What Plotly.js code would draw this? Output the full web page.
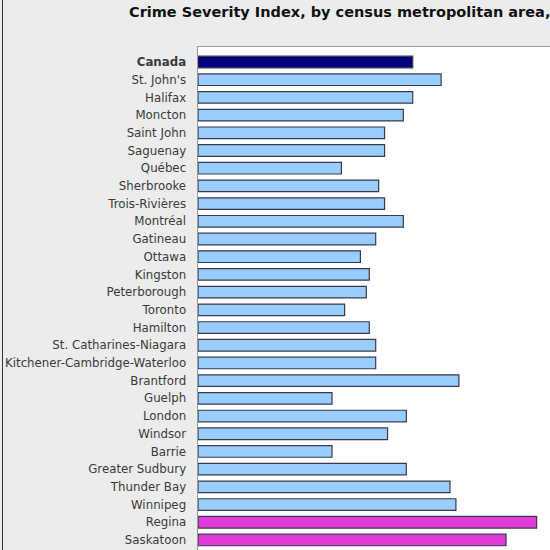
<!DOCTYPE html>
<html>
<head>
<meta charset="utf-8">
<script src="https://cdn.plot.ly/plotly-3.0.1.min.js"></script>
<style>
  html, body { margin: 0; padding: 0; overflow: hidden; background: #ececec; }
  #chart { position: absolute; left: 0; top: 0; width: 700px; height: 700px; }
  #edge { position: absolute; left: 2px; top: 0; width: 1px; height: 100%; background: #333; }
</style>
</head>
<body>
<div id="chart"></div>
<div id="edge"></div>
<script>
const categories = ["Canada","St. John's","Halifax","Moncton","Saint John","Saguenay","Québec","Sherbrooke","Trois-Rivières","Montréal","Gatineau","Ottawa","Kingston","Peterborough","Toronto","Hamilton","St. Catharines-Niagara","Kitchener-Cambridge-Waterloo","Brantford","Guelph","London","Windsor","Barrie","Greater Sudbury","Thunder Bay","Winnipeg","Regina","Saskatoon"];
const tickLabels = ["<b>Canada</b>","St. John's","Halifax","Moncton","Saint John","Saguenay","Québec","Sherbrooke","Trois-Rivières","Montréal","Gatineau","Ottawa","Kingston","Peterborough","Toronto","Hamilton","St. Catharines-Niagara","Kitchener-Cambridge-Waterloo","Brantford","Guelph","London","Windsor","Barrie","Greater Sudbury","Thunder Bay","Winnipeg","Regina","Saskatoon"];
const csiValues = [87.0,98.5,87.0,83.2,75.6,75.6,58.1,73.2,75.6,83.2,72.0,65.8,69.4,68.2,59.4,69.4,72.0,72.0,105.7,54.3,84.4,76.8,54.3,84.4,102.1,104.5,137.2,124.8];
const groups = ["national","cma","cma","cma","cma","cma","cma","cma","cma","cma","cma","cma","cma","cma","cma","cma","cma","cma","cma","cma","cma","cma","cma","cma","cma","cma","high","high"];
const groupColors = {national: "#000080", cma: "#99ccff", high: "#e03ad8"};

const barColors = groups.map(g => groupColors[g]);

const trace = {
  type: "bar",
  orientation: "h",
  y: categories,
  x: csiValues,
  marker: { color: barColors, line: { color: "#3a3a4a", width: 1.2 } },
  hoverinfo: "x+y"
};

const layout = {
  width: 700,
  height: 700,
  paper_bgcolor: "#ececec",
  plot_bgcolor: "#ffffff",
  margin: { l: 197.5, r: 0, t: 47, b: 0 },
  bargap: 0.345,
  showlegend: false,
  title: {
    text: "<b>Crime Severity Index, by census metropolitan area,</b>",
    font: { family: "DejaVu Sans, Verdana, sans-serif", size: 14.5, color: "#111" },
    xref: "container", x: 129 / 700, xanchor: "left",
    yref: "container", y: 1 - 12 / 700, yanchor: "middle"
  },
  xaxis: {
    range: [0, 203.4],
    showticklabels: false,
    ticks: "",
    showgrid: false,
    zeroline: false,
    showline: true,
    mirror: true,
    linecolor: "#999",
    linewidth: 1.5,
    fixedrange: true
  },
  yaxis: {
    type: "category",
    categoryorder: "array",
    categoryarray: categories,
    tickmode: "array",
    tickvals: categories,
    ticktext: tickLabels,
    range: [36.04, -0.847],
    ticks: "",
    ticklabelstandoff: 8,
    tickfont: { family: "DejaVu Sans, Verdana, sans-serif", size: 11.8, color: "#3a3a3a" },
    showgrid: false,
    zeroline: false,
    showline: true,
    mirror: true,
    linecolor: "#999",
    linewidth: 1.5,
    fixedrange: true
  }
};

Plotly.newPlot("chart", [trace], layout, { staticPlot: true, displayModeBar: false });
</script>
</body>
</html>
